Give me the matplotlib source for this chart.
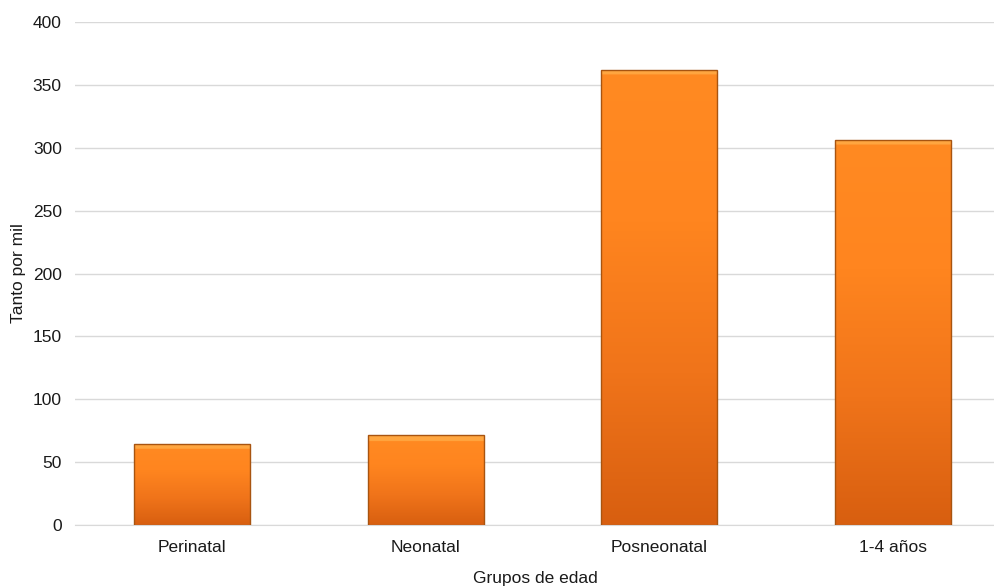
import matplotlib
matplotlib.use("Agg")
import matplotlib.pyplot as plt
import numpy as np
from matplotlib.colors import LinearSegmentedColormap

plt.rcParams['font.family'] = ['Liberation Sans', 'DejaVu Sans']

categorias = ["Perinatal", "Neonatal", "Posneonatal", "1-4 años"]
tasas = [64.5, 71.5, 362, 306]
y_ticks = [0, 50, 100, 150, 200, 250, 300, 350, 400]

fig = plt.figure(figsize=(9.95, 5.86), dpi=100)
ax = fig.add_axes([0.0754, 0.104, 1.0 - 0.0754, 0.8585])

x = np.arange(len(categorias))
ancho = 0.496
barras = ax.bar(x, tasas, width=ancho, color="none", edgecolor="#A85410",
                linewidth=1.0, zorder=3)

# degradado vertical dentro de cada barra
naranja = LinearSegmentedColormap.from_list(
    "naranja", ["#D85F10", "#F0741A", "#FF851F", "#FF8A22", "#FFA640"])
for b in barras:
    x0, w, h = b.get_x(), b.get_width(), b.get_height()
    grad = np.linspace(0, 1, 256).reshape(-1, 1)
    # tope biselado más claro
    n_top = max(3, int(256 * 6 / (h * 1.2575)))
    grad[-n_top:] = 1.0
    grad[:-n_top] = grad[:-n_top] * 0.75
    im = ax.imshow(grad, extent=[x0, x0 + w, 0, h], origin="lower",
                   aspect="auto", cmap=naranja, vmin=0, vmax=1, zorder=2)
    im.set_clip_path(b)

ax.set_xlim(-0.5, 3.436)
ax.set_ylim(0, 400)
ax.set_yticks(y_ticks)
ax.set_xticks(x)
ax.set_xticklabels(categorias)
ax.yaxis.grid(True, color="#D9D9D9", linewidth=1.0, zorder=0)
ax.set_axisbelow(True)
for lado in ["top", "right", "left"]:
    ax.spines[lado].set_visible(False)
ax.spines["bottom"].set_color("#D9D9D9")
ax.tick_params(axis="both", length=0, labelsize=12.5, colors="#1a1a1a")
ax.tick_params(axis="x", pad=11)
ax.tick_params(axis="y", pad=9.5)
ax.set_xlabel("Grupos de edad", fontsize=12.5, color="#1a1a1a", labelpad=11)
ax.set_ylabel("Tanto por mil", fontsize=12.5, color="#1a1a1a", labelpad=5)

fig.savefig("out.png", dpi=100)
